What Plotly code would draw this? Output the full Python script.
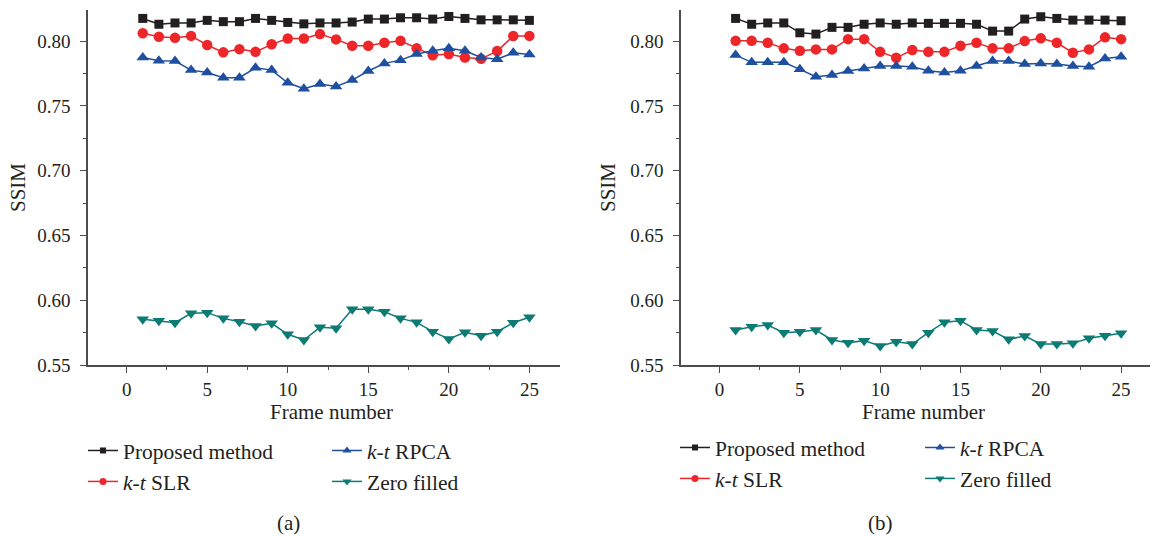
import plotly.graph_objects as go

frames = list(range(1, 26))

# Panel (a)
a_proposed = [0.8175, 0.813, 0.814, 0.814, 0.816, 0.815, 0.815, 0.8175, 0.816, 0.8144,
              0.8133, 0.814, 0.814, 0.8147, 0.817, 0.817, 0.818, 0.818, 0.817, 0.819,
              0.8175, 0.8164, 0.8164, 0.8164, 0.816]
a_slr = [0.806, 0.8033, 0.8025, 0.804, 0.797, 0.7913, 0.7938, 0.7917, 0.7975, 0.802,
         0.802, 0.8054, 0.8013, 0.7964, 0.7964, 0.7987, 0.8002, 0.7944, 0.789, 0.790,
         0.7874, 0.7863, 0.7923, 0.8039, 0.804]
a_rpca = [0.7874, 0.7848, 0.7846, 0.7776, 0.7758, 0.7717, 0.7717, 0.7794, 0.7776, 0.7678,
          0.7632, 0.7668, 0.765, 0.7699, 0.7769, 0.7828, 0.7853, 0.790, 0.7925, 0.7944,
          0.7925, 0.7874, 0.786, 0.791, 0.7897]
a_zero = [0.5853, 0.5842, 0.5826, 0.5899, 0.5904, 0.586, 0.5834, 0.5801, 0.5822, 0.5737,
          0.5693, 0.5791, 0.5783, 0.593, 0.593, 0.5911, 0.586, 0.5829, 0.5757, 0.5701,
          0.5752, 0.5726, 0.5757, 0.5826, 0.5868]

# Panel (b)
b_proposed = [0.8175, 0.813, 0.814, 0.814, 0.8064, 0.8054, 0.8106, 0.8106, 0.813, 0.814,
              0.813, 0.814, 0.8137, 0.8137, 0.8137, 0.813, 0.8077, 0.8077, 0.817, 0.8188,
              0.8175, 0.8162, 0.8162, 0.8162, 0.8157]
b_slr = [0.8002, 0.8002, 0.7987, 0.7944, 0.7925, 0.7936, 0.7936, 0.8015, 0.8015, 0.7917,
         0.7871, 0.7931, 0.7917, 0.7917, 0.7964, 0.7987, 0.7944, 0.7944, 0.800, 0.8021,
         0.7987, 0.791, 0.7936, 0.8029, 0.8015]
b_rpca = [0.7892, 0.7836, 0.7836, 0.7836, 0.7782, 0.7725, 0.7738, 0.7769, 0.7789, 0.7807,
          0.7807, 0.7802, 0.7771, 0.7758, 0.7771, 0.7807, 0.7846, 0.7846, 0.7823, 0.7828,
          0.7823, 0.7807, 0.7802, 0.7866, 0.7879]
b_zero = [0.577, 0.5796, 0.5809, 0.5749, 0.5757, 0.577, 0.5693, 0.5672, 0.5688, 0.5647,
          0.568, 0.5662, 0.5749, 0.583, 0.5842, 0.577, 0.5762, 0.5698, 0.5724, 0.5662,
          0.5662, 0.5667, 0.5706, 0.5726, 0.5745]

series_names = ["Proposed method", "<i>k</i>-<i>t</i> SLR", "<i>k</i>-<i>t</i> RPCA", "Zero filled"]
y_ticks = [0.55, 0.60, 0.65, 0.70, 0.75, 0.80]
x_ticks = [0, 5, 10, 15, 20, 25]
panel_labels = ["(a)", "(b)"]

colors = ["#231f20", "#ec2629", "#1f4f9f", "#0b7b73"]
symbols = ["square", "circle", "triangle-up", "triangle-down"]
sizes = [9, 10.5, 11, 11]
leg_sizes = [6, 7, 8, 8]

W, H = 1161, 536
FONT = "Liberation Serif"
TXT = "#231f20"

fig = go.Figure()

panels = [(a_proposed, a_slr, a_rpca, a_zero), (b_proposed, b_slr, b_rpca, b_zero)]
axes = [("x", "y"), ("x2", "y2")]
legend_ids = [["legend", "legend", "legend2", "legend2"], ["legend3", "legend3", "legend4", "legend4"]]

for p, data in enumerate(panels):
    xa, ya = axes[p]
    for i, ys in enumerate(data):
        fig.add_trace(go.Scatter(
            x=frames, y=ys, mode="lines+markers", xaxis=xa, yaxis=ya,
            line=dict(color=colors[i], width=1.5),
            marker=dict(symbol=symbols[i], size=sizes[i], color=colors[i]),
            showlegend=False, name=series_names[i]))
    # legend-only entries (no data points) with small symbols
    for i in range(4):
        fig.add_trace(go.Scatter(
            x=[None], y=[None], mode="lines+markers", xaxis=xa, yaxis=ya,
            line=dict(color=colors[i], width=1.5),
            marker=dict(symbol=symbols[i], size=leg_sizes[i], color=colors[i]),
            name=series_names[i], legend=legend_ids[p][i],
            legendgroup=f"g{p}{i}", showlegend=True))

def px_x(px):
    return px / W

def px_y(py):
    return 1 - py / H

axis_common = dict(showline=True, linecolor="#4d4d4d", linewidth=1.5, ticks="outside",
                   ticklen=6, tickwidth=1.3, tickcolor="#4d4d4d", showgrid=False,
                   zeroline=False, tickfont=dict(family=FONT, size=19, color=TXT))

ydom = [px_y(365), px_y(10)]
fig.update_layout(
    xaxis=dict(domain=[px_x(88), px_x(560)], range=[-2.4, 26.9], tickvals=x_ticks,
               minor=dict(dtick=2.5, ticks="outside", ticklen=3, tickcolor="#4d4d4d"),
               anchor="y", **axis_common),
    yaxis=dict(domain=ydom, range=[0.55, 0.824], tickvals=y_ticks, tickformat=".2f",
               minor=dict(dtick=0.025, ticks="outside", ticklen=3, tickcolor="#4d4d4d"),
               anchor="x", ticklabelstandoff=6, **axis_common),
    xaxis2=dict(domain=[px_x(681), px_x(1150)], range=[-2.4, 26.8], tickvals=x_ticks,
                minor=dict(dtick=2.5, ticks="outside", ticklen=3, tickcolor="#4d4d4d"),
                anchor="y2", **axis_common),
    yaxis2=dict(domain=ydom, range=[0.55, 0.824], tickvals=y_ticks, tickformat=".2f",
                minor=dict(dtick=0.025, ticks="outside", ticklen=3, tickcolor="#4d4d4d"),
                anchor="x2", ticklabelstandoff=6, **axis_common),
    width=W, height=H,
    margin=dict(l=0, r=0, t=0, b=0, autoexpand=False),
    plot_bgcolor="white", paper_bgcolor="white",
    font=dict(family=FONT, size=21, color=TXT),
)

leg_common = dict(orientation="v", xanchor="left", yanchor="top", bgcolor="rgba(0,0,0,0)",
                  font=dict(family=FONT, size=21.5, color=TXT), tracegroupgap=0,
                  itemwidth=30)
fig.update_layout(
    legend=dict(x=px_x(83), y=px_y(430), **leg_common),
    legend2=dict(x=px_x(327), y=px_y(430), **leg_common),
    legend3=dict(x=px_x(675), y=px_y(427), **leg_common),
    legend4=dict(x=px_x(920), y=px_y(427), **leg_common),
)

annotations = [
    dict(text="Frame number", x=px_x(331), y=px_y(412)),
    dict(text="Frame number", x=px_x(923), y=px_y(412)),
    dict(text="SSIM", x=px_x(18), y=px_y(188), textangle=-90),
    dict(text="SSIM", x=px_x(608), y=px_y(188), textangle=-90),
    dict(text=panel_labels[0], x=px_x(288), y=px_y(523)),
    dict(text=panel_labels[1], x=px_x(880), y=px_y(523)),
]
for a in annotations:
    fig.add_annotation(xref="paper", yref="paper", showarrow=False,
                       xanchor="center", yanchor="middle",
                       font=dict(family=FONT, size=21, color=TXT), **a)

fig.write_html("out.html", config={"displayModeBar": False})

# remove default page margin so the figure sits at the window origin
with open("out.html", "r", encoding="utf-8") as f:
    html = f.read()
html = html.replace("<head>", "<head><style>html,body{margin:0;padding:0;overflow:hidden;}</style>", 1)
with open("out.html", "w", encoding="utf-8") as f:
    f.write(html)
